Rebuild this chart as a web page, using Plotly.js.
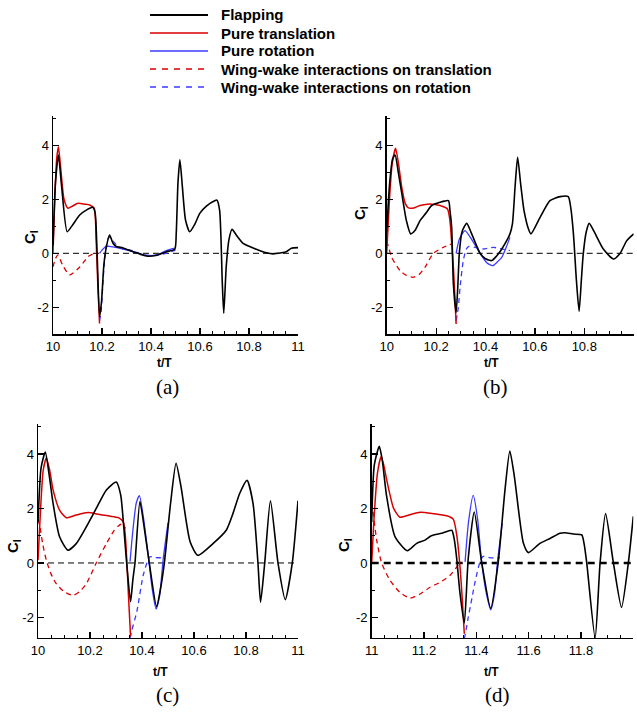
<!DOCTYPE html>
<html>
<head>
<meta charset="utf-8">
<script src="https://cdn.plot.ly/plotly-3.0.1.min.js"></script>
<style>html,body{margin:0;padding:0;background:#fff;}#chart{width:637px;height:719px;}</style>
</head>
<body>
<div id="chart"></div>
<script>
// ---------------- DATA ----------------
const seriesNames = ["Flapping", "Pure translation", "Pure rotation",
  "Wing-wake interactions on translation", "Wing-wake interactions on rotation"];
const panelLabels = ["(a)", "(b)", "(c)", "(d)"];
const xTickVals01 = [10, 10.2, 10.4, 10.6, 10.8, 11];
const xTickText01 = ["10", "10.2", "10.4", "10.6", "10.8", "11"];
const xTickValsB = [10, 10.2, 10.4, 10.6, 10.8];
const xTickTextB = ["10", "10.2", "10.4", "10.6", "10.8"];
const xTickValsD = [11, 11.2, 11.4, 11.6, 11.8, 12];
const xTickTextD = ["11", "11.2", "11.4", "11.6", "11.8", "12"];
const yTickVals = [-2, 0, 2, 4];
const yTickText = ["-2", "0", "2", "4"];

// Panel (a)
const aFlapT = [10.0, 10.01, 10.022, 10.035, 10.058, 10.08, 10.109, 10.136, 10.163, 10.172, 10.18, 10.19, 10.198, 10.207, 10.215, 10.231, 10.245, 10.258, 10.286, 10.327, 10.381, 10.42, 10.463, 10.497, 10.503, 10.51, 10.518, 10.528, 10.541, 10.558, 10.58, 10.599, 10.626, 10.66, 10.669, 10.68, 10.691, 10.697, 10.707, 10.718, 10.731, 10.748, 10.776, 10.83, 10.871, 10.898, 10.932, 10.952, 10.973, 11.0];
const aFlapC = [0.3, 2.6, 3.64, 2.5, 0.8, 1.05, 1.42, 1.6, 1.7, 1.5, 0.0, -2.35, -1.8, -0.5, 0.1, 0.68, 0.37, 0.25, 0.2, 0.06, -0.1, -0.08, 0.06, 0.15, 0.74, 2.6, 3.46, 2.47, 1.23, 0.8, 1.1, 1.48, 1.75, 1.95, 1.97, 1.6, -1.1, -2.22, -0.5, 0.5, 0.89, 0.68, 0.37, 0.15, 0.02, -0.02, 0.02, 0.06, 0.19, 0.21];
const aTransT = [10.0, 10.008, 10.015, 10.022, 10.03, 10.045, 10.061, 10.08, 10.102, 10.13, 10.15, 10.168, 10.176, 10.183, 10.19];
const aTransC = [0.0, 2.2, 3.5, 3.95, 3.3, 2.0, 1.67, 1.75, 1.85, 1.82, 1.79, 1.67, 0.5, -1.2, -2.6];
const aRotT = [10.19, 10.2, 10.215, 10.23, 10.27, 10.327, 10.38, 10.42, 10.463, 10.497];
const aRotC = [0.0, 0.12, 0.25, 0.26, 0.19, 0.06, -0.07, -0.07, 0.1, 0.19];
const aWTransT = [10.0, 10.01, 10.02, 10.04, 10.068, 10.11, 10.144, 10.168];
const aWTransC = [-0.5, -0.2, -0.06, -0.45, -0.8, -0.5, -0.12, 0.0];
const aWRotT = [10.19, 10.196, 10.203, 10.21, 10.218, 10.228, 10.24, 10.27, 10.33, 10.38, 10.44, 10.5];
const aWRotC = [-2.5, -2.2, -1.2, -0.3, 0.3, 0.6, 0.5, 0.22, 0.08, -0.08, -0.05, 0.12];

// Panel (b)
const bFlapT = [10.0, 10.012, 10.024, 10.034, 10.047, 10.061, 10.08, 10.097, 10.115, 10.135, 10.16, 10.182, 10.216, 10.25, 10.256, 10.263, 10.27, 10.281, 10.288, 10.294, 10.305, 10.324, 10.345, 10.378, 10.4, 10.425, 10.445, 10.466, 10.499, 10.509, 10.52, 10.53, 10.542, 10.556, 10.574, 10.584, 10.621, 10.661, 10.702, 10.735, 10.745, 10.756, 10.768, 10.779, 10.788, 10.796, 10.808, 10.82, 10.84, 10.877, 10.918, 10.945, 10.972, 11.0];
const bFlapC = [0.8, 2.6, 3.5, 3.64, 3.0, 2.22, 1.2, 0.72, 0.85, 1.21, 1.5, 1.77, 1.89, 1.95, 1.6, 0.96, -1.14, -2.19, -1.2, 0.0, 0.8, 1.11, 0.7, 0.0, -0.2, -0.27, -0.1, 0.16, 0.72, 1.09, 2.5, 3.56, 2.6, 1.58, 0.9, 0.72, 1.33, 1.95, 2.1, 2.1, 1.7, 0.72, -1.0, -2.15, -1.0, 0.0, 0.8, 1.11, 0.8, 0.16, -0.21, 0.0, 0.47, 0.72];
const bTransT = [10.0, 10.01, 10.022, 10.036, 10.048, 10.061, 10.075, 10.088, 10.11, 10.135, 10.175, 10.216, 10.246, 10.256, 10.263, 10.27, 10.276, 10.281];
const bTransC = [0.0, 1.8, 3.3, 3.89, 3.3, 2.44, 1.85, 1.68, 1.68, 1.77, 1.83, 1.77, 1.64, 1.21, 0.4, -0.52, -1.6, -2.62];
const bRotT = [10.281, 10.295, 10.317, 10.345, 10.378, 10.405, 10.429, 10.45, 10.466, 10.485, 10.499];
const bRotC = [0.0, 0.55, 0.84, 0.5, 0.0, -0.35, -0.46, -0.3, -0.15, 0.25, 0.59];
const bWTransT = [10.0, 10.01, 10.02, 10.054, 10.08, 10.105, 10.13, 10.155, 10.189, 10.229, 10.263];
const bWTransC = [0.45, 0.15, -0.15, -0.64, -0.82, -0.89, -0.8, -0.52, 0.0, 0.22, 0.35];
const bWRotT = [10.281, 10.29, 10.297, 10.31, 10.322, 10.331, 10.358, 10.391, 10.432, 10.466, 10.499];
const bWRotC = [-2.5, -2.0, -1.26, -0.27, 0.15, 0.25, 0.22, 0.16, 0.22, 0.16, 0.1];

// Panel (c)
const cFlapT = [10.0, 10.012, 10.028, 10.042, 10.058, 10.083, 10.115, 10.147, 10.186, 10.224, 10.263, 10.301, 10.318, 10.33, 10.341, 10.356, 10.365, 10.373, 10.392, 10.41, 10.428, 10.456, 10.472, 10.486, 10.51, 10.531, 10.55, 10.585, 10.615, 10.673, 10.724, 10.75, 10.776, 10.804, 10.827, 10.846, 10.856, 10.872, 10.894, 10.923, 10.951, 10.978, 11.0];
const cFlapC = [1.5, 3.5, 4.07, 3.3, 2.19, 0.96, 0.47, 0.71, 1.33, 2.0, 2.68, 2.97, 2.5, 1.3, 0.0, -1.42, -0.6, 0.0, 2.25, 1.2, 0.0, -1.6, -0.9, 0.0, 2.2, 3.66, 2.8, 0.78, 0.28, 0.71, 1.2, 1.82, 2.56, 3.03, 2.19, 0.0, -1.44, 0.0, 2.28, 0.0, -1.35, 0.0, 2.28];
const cTransT = [10.0, 10.01, 10.02, 10.032, 10.045, 10.058, 10.083, 10.109, 10.147, 10.192, 10.237, 10.288, 10.314, 10.328, 10.335, 10.341, 10.348, 10.356];
const cTransC = [0.1, 2.0, 3.4, 3.85, 3.4, 2.68, 1.94, 1.66, 1.76, 1.85, 1.78, 1.7, 1.64, 1.5, 1.1, 0.18, -1.2, -2.7];
const cRotT = [10.354, 10.365, 10.378, 10.39, 10.405, 10.425, 10.44, 10.454, 10.468, 10.481, 10.5];
const cRotC = [0.05, 1.2, 2.2, 2.47, 1.7, 0.2, -1.0, -1.69, -1.2, 0.1, 1.47];
const cWTransT = [10.0, 10.008, 10.018, 10.032, 10.05, 10.07, 10.1, 10.135, 10.16, 10.186, 10.224, 10.263, 10.29, 10.308, 10.32, 10.337];
const cWTransC = [1.6, 1.3, 0.7, 0.1, -0.4, -0.76, -1.05, -1.19, -1.05, -0.76, 0.0, 0.71, 1.15, 1.35, 1.42, 1.27];
const cWRotT = [10.354, 10.36, 10.38, 10.405, 10.43, 10.45, 10.48, 10.49];
const cWRotC = [-2.75, -2.5, -1.79, -0.44, 0.23, 0.2, 0.2, 0.3];

// Panel (d)
const dFlapT = [11.0, 11.01, 11.029, 11.04, 11.057, 11.089, 11.136, 11.172, 11.204, 11.228, 11.267, 11.306, 11.315, 11.325, 11.337, 11.354, 11.369, 11.392, 11.42, 11.455, 11.484, 11.509, 11.528, 11.545, 11.58, 11.599, 11.643, 11.682, 11.72, 11.739, 11.771, 11.803, 11.812, 11.822, 11.854, 11.873, 11.894, 11.924, 11.955, 11.981, 12.0];
const dFlapC = [1.5, 3.6, 4.28, 3.8, 2.45, 0.97, 0.45, 0.72, 0.84, 1.0, 1.09, 1.2, 0.9, 0.16, -1.07, -2.2, 0.16, 1.87, 0.05, -1.67, 0.05, 2.63, 4.11, 3.2, 0.72, 0.38, 0.72, 0.9, 1.09, 1.11, 1.06, 1.03, 0.7, 0.0, -2.75, 0.0, 1.81, 0.0, -1.63, 0.0, 1.71];
const dTransT = [11.0, 11.01, 11.022, 11.036, 11.046, 11.057, 11.07, 11.083, 11.108, 11.146, 11.185, 11.236, 11.287, 11.312, 11.325, 11.337, 11.346, 11.354];
const dTransC = [0.0, 1.8, 3.3, 3.9, 3.6, 3.07, 2.5, 2.02, 1.68, 1.77, 1.86, 1.81, 1.73, 1.6, 1.03, -0.08, -1.3, -2.6];
const dRotT = [11.357, 11.37, 11.388, 11.405, 11.42, 11.44, 11.455, 11.47, 11.481, 11.499];
const dRotC = [0.04, 1.5, 2.48, 1.6, 0.05, -1.2, -1.72, -1.1, 0.05, 1.46];
const dWTransT = [11.0, 11.004, 11.019, 11.038, 11.07, 11.108, 11.146, 11.185, 11.223, 11.261, 11.299, 11.325, 11.338];
const dWTransC = [2.2, 1.96, 0.84, 0.0, -0.64, -1.08, -1.29, -1.14, -0.89, -0.71, -0.46, -0.15, 0.04];
const dWRotT = [11.354, 11.36, 11.369, 11.383, 11.395, 11.414, 11.426, 11.45, 11.47, 11.49];
const dWRotC = [-2.78, -2.5, -2.0, -1.3, -0.7, 0.04, 0.24, 0.2, 0.18, 0.2];

// ---------------- STYLE ----------------
const RED = "#d80000", BLUE = "#3a3aff", BLACK = "#000000";
const styles = [
  {color: BLACK, width: 1.6, dash: "solid"},
  {color: RED, width: 1.5, dash: "solid"},
  {color: BLUE, width: 1.3, dash: "solid"},
  {color: RED, width: 1.3, dash: "5px,4px"},
  {color: BLUE, width: 1.3, dash: "5px,4px"}
];
const panels = [
  {xa: "x", ya: "y", data: [[aFlapT, aFlapC], [aTransT, aTransC], [aRotT, aRotC], [aWTransT, aWTransC], [aWRotT, aWRotC]]},
  {xa: "x2", ya: "y2", data: [[bFlapT, bFlapC], [bTransT, bTransC], [bRotT, bRotC], [bWTransT, bWTransC], [bWRotT, bWRotC]]},
  {xa: "x3", ya: "y3", data: [[cFlapT, cFlapC], [cTransT, cTransC], [cRotT, cRotC], [cWTransT, cWTransC], [cWRotT, cWRotC]]},
  {xa: "x4", ya: "y4", data: [[dFlapT, dFlapC], [dTransT, dTransC], [dRotT, dRotC], [dWTransT, dWTransC], [dWRotT, dWRotC]]}
];
const drawOrder = [3, 4, 1, 2, 0];
const traces = [];
panels.forEach((p, pi) => {
  drawOrder.forEach(si => {
    const s = styles[si];
    traces.push({
      type: "scatter", mode: "lines",
      x: p.data[si][0], y: p.data[si][1],
      xaxis: p.xa, yaxis: p.ya,
      name: seriesNames[si],
      showlegend: false,
      line: {color: s.color, width: s.width, dash: s.dash, shape: "spline", smoothing: 0.6},
      hoverinfo: "skip"
    });
  });
});

const W = 637, H = 719;
const px = v => v / W, py = v => 1 - v / H;
const tickFont = {family: "Liberation Sans, Arial, sans-serif", size: 13, color: "#000"};
function xAxis(domain, range, tv, tt, anchor) {
  return {
    domain: domain, range: range, anchor: anchor,
    showline: true, linecolor: "#000", linewidth: 1.5,
    ticks: "inside", ticklen: 6, tickwidth: 1.2, tickcolor: "#000",
    tickmode: "array", tickvals: tv, ticktext: tt, tickfont: tickFont,
    minor: {tickmode: "linear", tick0: range[0], dtick: 0.05, ticks: "inside", ticklen: 3, tickwidth: 1, tickcolor: "#000"},
    showgrid: false, zeroline: false, fixedrange: true
  };
}
function yAxis(domain, range, anchor) {
  return {
    domain: domain, range: range, anchor: anchor,
    showline: true, linecolor: "#000", linewidth: 1.5,
    ticks: "inside", ticklen: 6, tickwidth: 1.2, tickcolor: "#000",
    tickmode: "array", tickvals: yTickVals, ticktext: yTickText, tickfont: tickFont,
    minor: {tickmode: "linear", tick0: 0, dtick: 1, ticks: "inside", ticklen: 3, tickwidth: 1, tickcolor: "#000"},
    showgrid: false, zeroline: false, fixedrange: true
  };
}

const topY = [py(334.3), py(115.6)];
const botY = [py(637.9), py(424)];

const layout = {
  width: W, height: H,
  margin: {l: 0, r: 0, t: 0, b: 0},
  paper_bgcolor: "#fff", plot_bgcolor: "rgba(0,0,0,0)",
  showlegend: false,
  xaxis: xAxis([px(53), px(298)], [10, 11], xTickVals01, xTickText01, "y"),
  yaxis: yAxis(topY, [-3, 5.1], "x"),
  xaxis2: xAxis([px(386.7), px(633.7)], [10, 11], xTickValsB, xTickTextB, "y2"),
  yaxis2: yAxis(topY, [-3, 5.1], "x2"),
  xaxis3: xAxis([px(38), px(298)], [10, 11], xTickVals01, xTickText01, "y3"),
  yaxis3: yAxis(botY, [-2.75, 5.1], "x3"),
  xaxis4: xAxis([px(371.7), px(633.3)], [11, 12], xTickValsD, xTickTextD, "y4"),
  yaxis4: yAxis(botY, [-2.75, 5.1], "x4"),
  shapes: [
    {type: "line", xref: "x domain", yref: "y", x0: 0, x1: 1, y0: 0, y1: 0, line: {color: "#000", width: 1, dash: "6px,4px"}, layer: "below"},
    {type: "line", xref: "x2 domain", yref: "y2", x0: 0, x1: 1, y0: 0, y1: 0, line: {color: "#000", width: 1, dash: "6px,4px"}, layer: "below"},
    {type: "line", xref: "x3 domain", yref: "y3", x0: 0, x1: 1, y0: 0, y1: 0, line: {color: "#000", width: 1, dash: "6px,4px"}, layer: "below"},
    {type: "line", xref: "x4 domain", yref: "y4", x0: 0, x1: 1, y0: 0, y1: 0, line: {color: "#000", width: 2.6, dash: "7px,5px"}, layer: "below"}
  ],
  annotations: []
};

// legend (keys + labels)
const legRows = [15, 33, 51, 69, 87];
const legFont = {family: "Liberation Sans, Arial, sans-serif", size: 15, color: "#000"};
styles.forEach((s, i) => {
  layout.shapes.push({type: "line", xref: "paper", yref: "paper", x0: px(150), x1: px(208), y0: py(legRows[i]), y1: py(legRows[i]),
    line: {color: s.color, width: i === 0 ? 1.8 : 1.6, dash: s.dash === "solid" ? "solid" : "6px,6px"}});
  layout.annotations.push({xref: "paper", yref: "paper", x: px(219), y: py(legRows[i]), text: "<b>" + seriesNames[i] + "</b>",
    showarrow: false, font: legFont, xanchor: "left", yanchor: "middle"});
});

const labFont = {family: "Liberation Sans, Arial, sans-serif", size: 12, color: "#000"};
const clFont = {family: "Liberation Sans, Arial, sans-serif", size: 15, color: "#000"};
const panFont = {family: "Liberation Serif, Times New Roman, serif", size: 21, color: "#000"};
const tPos = [[165, 363], [492, 363], [160, 672], [492, 672]];
const cPos = [[30, 237], [361, 213], [13, 546], [344, 545]];
const lPos = [[167, 387], [495, 387], [167, 695], [497, 695]];
for (let i = 0; i < 4; i++) {
  layout.annotations.push({xref: "paper", yref: "paper", x: px(tPos[i][0]), y: py(tPos[i][1]), text: "<b>t/T</b>", showarrow: false, font: labFont, xanchor: "center", yanchor: "middle"});
  layout.annotations.push({xref: "paper", yref: "paper", x: px(cPos[i][0]), y: py(cPos[i][1]), text: "<b>C<sub>l</sub></b>", showarrow: false, font: clFont, textangle: -90, xanchor: "center", yanchor: "middle"});
  layout.annotations.push({xref: "paper", yref: "paper", x: px(lPos[i][0]), y: py(lPos[i][1]), text: panelLabels[i], showarrow: false, font: panFont, xanchor: "center", yanchor: "middle"});
}

Plotly.newPlot("chart", traces, layout, {staticPlot: true, displayModeBar: false});
</script>
</body>
</html>
